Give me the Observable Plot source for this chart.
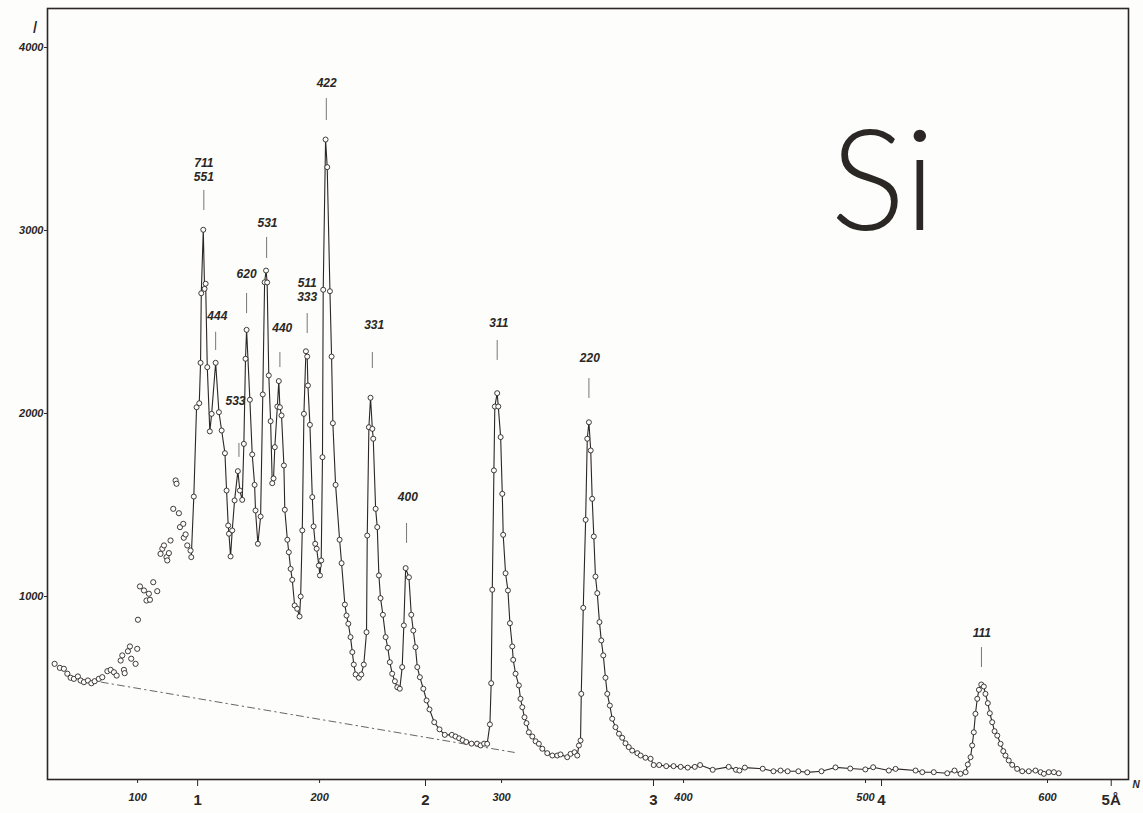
<!DOCTYPE html>
<html>
<head>
<meta charset="utf-8">
<script src="https://cdn.jsdelivr.net/npm/d3@7"></script>
<script src="https://cdn.jsdelivr.net/npm/@observablehq/plot@0.6"></script>
<style>
  html, body { margin: 0; padding: 0; background: #fdfdfb; }
  #chart svg { display: block; }
</style>
</head>
<body>
<div id="chart"></div>
<script>
// Unconnected measurements at small N
const scatterN = [54.4,57.3,59.5,61.4,63.2,65.0,67.2,68.7,70.5,72.7,74.6,76.4,78.7,80.6,83.4,85.2,87.0,88.5,90.7,91.6,92.5,92.9,94.7,95.8,96.5,98.9,99.8,100.2,101.3,103.5,104.9,106.2,106.8,108.6,110.8,112.6,113.6,114.5,115.9,116.3,117.2,118.1,119.6,120.9,121.4,122.7,123.3,125.1,125.4,126.4,127.3,129.1];
const scatterI = [632,610,605,578,556,550,563,541,532,541,526,537,550,559,592,599,586,568,650,678,599,581,701,727,660,632,714,873,1055,1033,978,1015,982,1078,1029,1233,1261,1279,1215,1197,1237,1306,1479,1634,1616,1455,1379,1397,1321,1339,1279,1251];

// Connected intensity curve
const curveN = [129.5,130.9,132.4,133.9,134.6,135.0,136.1,136.8,137.4,138.3,139.7,140.7,142.9,144.7,146.2,148.0,148.9,149.8,150.2,151.1,152.0,153.3,155.1,156.2,157.5,158.4,159.3,159.9,161.7,163.0,164.3,164.8,166.1,167.6,168.8,169.8,170.6,171.2,172.1,173.1,174.0,174.7,175.4,176.8,177.6,178.2,179.1,180.4,180.9,182.3,183.1,184.1,185.0,186.3,187.7,189.0,189.6,190.5,191.4,192.5,193.2,193.6,194.7,196.0,196.7,197.6,198.4,199.6,200.2,200.9,201.6,202.0,203.3,204.2,205.7,206.6,207.3,208.8,211.0,212.1,213.9,214.8,215.8,217.0,218.0,218.8,219.8,221.6,222.9,224.3,225.8,226.2,227.1,228.0,229.0,229.5,230.8,231.7,232.6,233.5,234.8,236.3,237.5,238.6,239.9,241.4,242.7,244.1,245.4,246.3,247.3,249.1,250.4,251.5,252.7,253.7,255.1,257.0,258.8,260.4,263.0,265.9,268.8,272.7,274.7,276.7,278.6,280.6,283.5,286.5,288.5,290.4,292.1,293.6,294.3,294.9,295.8,296.3,297.6,298.2,299.5,300.4,300.9,302.2,303.5,304.6,305.9,306.4,307.7,309.5,310.4,311.4,312.6,313.7,315.0,316.9,318.7,320.5,322.4,325.1,327.9,330.6,332.4,336.1,337.9,340.1,341.6,342.5,343.4,343.8,344.9,346.2,347.1,348.0,349.0,349.8,350.7,351.6,352.6,353.8,354.8,355.9,357.1,358.1,359.5,360.8,362.6,364.5,366.3,368.1,369.9,371.8,374.6,376.4,379.1,381.9,383.6,386.6,390.5,394.5,398.4,402.3,406.2,409.1,416.0,424.8,428.8,430.7,433.7,443.5,449.4,453.3,457.2,463.1,468.0,475.8,483.5,491.6,499.9,504.2,512.8,516.5,527.5,531.2,537.5,544.9,548.9,552.2,555.0,556.2,557.7,558.6,559.5,560.4,561.4,562.3,563.6,565.0,565.9,567.2,568.3,569.6,570.9,572.4,574.2,575.7,576.9,578.7,580.6,583.3,586.1,589.7,593.4,596.2,598.0,600.7,603.5,606.2];
const curveI = [1215,1546,2034,2056,2277,2657,3004,2681,2709,2253,1902,1998,2277,2007,1907,1783,1579,1388,1343,1219,1361,1525,1685,1579,1528,1834,2299,2457,2075,1776,1610,1470,1288,1437,2104,2717,2781,2716,2208,1958,1619,1645,1816,2038,2177,2034,1989,1716,1474,1310,1242,1151,1091,951,933,891,1000,1361,1998,2340,2311,2153,1938,1543,1383,1288,1261,1169,1115,1197,1761,2676,3497,3346,2668,2311,1947,1610,1310,1182,956,896,851,778,696,628,574,556,574,628,805,1333,1925,2086,1916,1862,1479,1379,1115,991,900,778,720,641,578,537,504,496,614,842,1155,1105,900,814,723,614,559,496,432,383,313,274,244,244,235,225,215,205,196,196,186,196,195,301,526,1037,1689,2038,2111,2038,1871,1561,1337,1127,1033,854,727,654,578,514,441,395,340,308,258,235,209,195,168,144,131,131,137,122,140,149,131,186,213,468,938,1419,1862,1952,1798,1534,1328,1109,1018,860,760,678,556,468,404,332,286,250,228,198,177,158,144,131,119,113,79,79,73,73,69,65,69,79,53,69,53,49,65,59,45,49,45,45,39,45,66,60,55,67,49,58,49,40,40,34,49,31,40,82,122,186,258,359,441,490,519,508,468,417,362,313,264,240,195,155,131,104,80,58,45,45,49,40,31,40,40,34];

// Dash-dot background line
const bgN = [80, 307];
const bgI = [532, 148];

// Reflection labels
const peakLabels = ["711\n551","444","533","620","531","440","511\n333","422","331","400","311","220","111"];
const peakN  = [136.4,142.9,155.7,159.9,170.9,178.2,193.2,203.7,229.0,247.8,297.6,348.0,563.7];
const labelN = [136.4,143.8,153.8,159.9,171.4,179.5,193.2,203.9,230.0,248.5,298.5,348.5,563.9];
const labelI = [3333,2536,2071,2765,3044,2470,2678,3809,2486,1546,2497,2306,803];
const tickHi = [3219,2444,1836,2656,2962,2333,2546,3721,2333,1399,2399,2191,721];
const tickLo = [3109,2344,1760,2546,2847,2251,2437,3601,2246,1290,2290,2082,612];

// Axis ticks
const yTicks = [1000, 2000, 3000, 4000];
const nTicks = [100, 200, 300, 400, 500, 600];
const angLabels = ["1", "2", "3", "4", "5Å"];
const angN = [133.0, 258.2, 383.5, 508.8, 635.0];

const ink = "#2b2724";
const scatter = scatterN.map((n, i) => ({n, I: scatterI[i]}));
const curve = curveN.map((n, i) => ({n, I: curveI[i]}));
const bg = bgN.map((n, i) => ({n, I: bgI[i]}));
const peaks = peakLabels.map((label, i) => ({label, n: peakN[i], ln: labelN[i], li: labelI[i], hi: tickHi[i], lo: tickLo[i]}));

const chart = Plot.plot({
  width: 1143,
  height: 813,
  marginLeft: 47,
  marginRight: 15,
  marginTop: 8,
  marginBottom: 34,
  x: {domain: [50.5, 644.5]},
  y: {domain: [0, 4213]},
  style: {fontFamily: "'Liberation Sans', 'DejaVu Sans', sans-serif", background: "#fdfdfb", color: ink},
  marks: [
    Plot.line(bg, {x: "n", y: "I", stroke: "#555", strokeWidth: 0.9, strokeDasharray: "7,4,1.5,4"}),
    Plot.line(curve, {x: "n", y: "I", stroke: ink, strokeWidth: 1.1}),
    Plot.dot(curve, {x: "n", y: "I", r: 2.5, stroke: ink, strokeWidth: 0.9, fill: "#fdfdfb"}),
    Plot.dot(scatter, {x: "n", y: "I", r: 2.6, stroke: ink, strokeWidth: 0.9, fill: "#fdfdfb"}),
    Plot.ruleX(peaks, {x: "n", y1: "lo", y2: "hi", stroke: "#777", strokeWidth: 1}),
    Plot.text(peaks, {x: "ln", y: "li", text: "label", fontSize: 12, fontWeight: "bold", fontStyle: "italic", fill: ink, lineHeight: 1.15}),
    Plot.frame({stroke: ink, strokeWidth: 1.6}),
    Plot.axisY(yTicks, {tickSize: 3, tickPadding: 1, fontSize: 11, fontWeight: "bold", fontStyle: "italic", label: null, stroke: ink, tickFormat: d => String(d)}),
    Plot.axisX(nTicks, {tickSize: 4, tickPadding: 10, fontSize: 11, fontWeight: "bold", fontStyle: "italic", label: null, stroke: ink, tickFormat: d => String(d)}),
    Plot.axisX(angN, {tickSize: 7, tickPadding: 8, fontSize: 15, fontWeight: "bold", label: null, stroke: ink, tickFormat: (d, i) => angLabels[i]}),
    Plot.text(["I"], {frameAnchor: "top-left", dx: -15, dy: 12, fontSize: 17, fontStyle: "italic", fill: ink}),
    Plot.text(["N"], {frameAnchor: "bottom-right", dx: 4, dy: 8, textAnchor: "start", fontSize: 10, fontStyle: "italic", fontWeight: "bold", fill: ink}),
    Plot.text(["Si"], {frameAnchor: "top-right", dx: -193, dy: 122, fontSize: 140, fontFamily: "Lato, 'DejaVu Sans', sans-serif", fontWeight: 300, fill: ink})
  ]
});
document.getElementById("chart").appendChild(chart);
</script>
</body>
</html>
